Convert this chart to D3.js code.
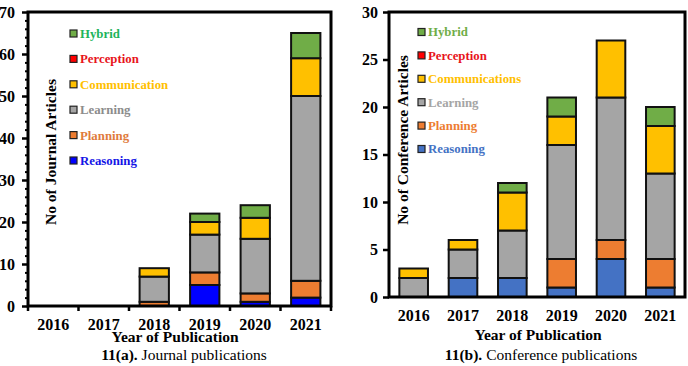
<!DOCTYPE html>
<html>
<head>
<meta charset="utf-8">
<script src="https://cdn.jsdelivr.net/npm/d3@7"></script>
<style>
  html, body { margin: 0; padding: 0; background: #fff; }
  svg text { font-family: "Liberation Serif", Tinos, "Times New Roman", Times, "Nimbus Roman", "DejaVu Serif", serif !important; }
</style>
</head>
<body>
<svg id="chart" width="688" height="366"></svg>
<script>
// ---------- DATA ----------
const years = ["2016", "2017", "2018", "2019", "2020", "2021"];
const seriesKeys = ["Reasoning", "Planning", "Learning", "Communication", "Perception", "Hybrid"];

// Journal publications (a)
const journalReasoning     = [0, 0, 0, 5, 1, 2];
const journalPlanning      = [0, 0, 1, 3, 2, 4];
const journalLearning      = [0, 0, 6, 9, 13, 44];
const journalCommunication = [0, 0, 2, 3, 5, 9];
const journalPerception    = [0, 0, 0, 0, 0, 0];
const journalHybrid        = [0, 0, 0, 2, 3, 6];

// Conference publications (b)
const confReasoning      = [0, 2, 2, 1, 4, 1];
const confPlanning       = [0, 0, 0, 3, 2, 3];
const confLearning       = [2, 3, 5, 12, 15, 9];
const confCommunications = [1, 1, 4, 3, 6, 5];
const confPerception     = [0, 0, 0, 0, 0, 0];
const confHybrid         = [0, 0, 1, 2, 0, 2];

const journalTicks = [0, 10, 20, 30, 40, 50, 60, 70];
const confTicks = [0, 5, 10, 15, 20, 25, 30];

const journalLegend = ["Hybrid", "Perception", "Communication", "Learning", "Planning", "Reasoning"];
const confLegend = ["Hybrid", "Perception", "Communications", "Learning", "Planning", "Reasoning"];

// ---------- STYLES ----------
const journalFill = { Reasoning: "#0000FF", Planning: "#ED7D31", Learning: "#A5A5A5", Communication: "#FFC000", Perception: "#FF0000", Hybrid: "#70AD47" };
const journalText = { Reasoning: "#1414E6", Planning: "#E07B3C", Learning: "#8C8C8C", Communication: "#FFC000", Perception: "#E8141B", Hybrid: "#1DB35A" };
const confFill = { Reasoning: "#4472C4", Planning: "#ED7D31", Learning: "#A5A5A5", Communication: "#FFC000", Perception: "#FF0000", Hybrid: "#70AD47" };
const confText = { Reasoning: "#4472C4", Planning: "#ED7D31", Learning: "#A5A5A5", Communication: "#FFC000", Perception: "#E8141B", Hybrid: "#70AD47" };

const SERIF = '"Liberation Serif", Tinos, "Times New Roman", Times, "Nimbus Roman", "DejaVu Serif", serif';

function buildRows(arrs) {
  return years.map((y, i) => {
    const r = { year: y };
    seriesKeys.forEach((k, j) => r[k] = arrs[j][i]);
    return r;
  });
}

const journalRows = buildRows([journalReasoning, journalPlanning, journalLearning, journalCommunication, journalPerception, journalHybrid]);
const confRows = buildRows([confReasoning, confPlanning, confLearning, confCommunications, confPerception, confHybrid]);

const svg = d3.select("#chart");

function drawChart(cfg) {
  const { left, right, top, bottom, ymax, ticks, minorStep, rows, fills, textCols,
          legendNames, legendX, legendY0, legendStep, yTitle, yTitleX, yTitleY,
          xTitleX, capX, capBold, capRest, boundaryTicks, labelPad } = cfg;

  const x = d3.scaleBand().domain(years).range([left, right]).paddingInner(0.42).paddingOuter(0.21);
  const xb = d3.scaleBand().domain(years).range([left, right]);
  const y = d3.scaleLinear().domain([0, ymax]).range([bottom, top]);

  const g = svg.append("g").attr("font-family", SERIF);

  // Stacked bars
  const stack = d3.stack().keys(seriesKeys)(rows);
  stack.forEach(layer => {
    g.append("g").selectAll("rect")
      .data(layer.filter(d => d[1] - d[0] > 0))
      .join("rect")
      .attr("x", d => x(d.data.year))
      .attr("width", x.bandwidth())
      .attr("y", d => y(d[1]))
      .attr("height", d => y(d[0]) - y(d[1]))
      .attr("fill", fills[layer.key])
      .attr("stroke", "#111")
      .attr("stroke-width", 2);
  });

  // Frame
  g.append("rect")
    .attr("x", left).attr("y", top)
    .attr("width", right - left).attr("height", bottom - top)
    .attr("fill", "none").attr("stroke", "#000").attr("stroke-width", 3);

  // Minor ticks
  if (minorStep) {
    const minor = d3.range(0, ymax + 0.001, minorStep).filter(v => !ticks.includes(v));
    g.append("g").attr("transform", `translate(${left},0)`)
      .call(d3.axisLeft(y).tickValues(minor).tickSize(3).tickFormat(""))
      .call(a => a.select(".domain").remove())
      .call(a => a.selectAll("line").attr("stroke", "#000").attr("stroke-width", 2));
  }

  // Y axis
  g.append("g").attr("transform", `translate(${left},0)`)
    .call(d3.axisLeft(y).tickValues(ticks).tickSize(6).tickPadding(labelPad))
    .call(a => a.attr("font-family", SERIF))
    .call(a => a.select(".domain").remove())
    .call(a => a.selectAll("line").attr("stroke", "#000").attr("stroke-width", 2.5))
    .call(a => a.selectAll("text").attr("font-weight", "bold")
      .attr("font-size", 16).attr("fill", "#000"));

  // X axis labels
  g.append("g").attr("transform", `translate(0,${bottom})`)
    .call(d3.axisBottom(x).tickSize(0).tickPadding(0))
    .call(a => a.attr("font-family", SERIF))
    .call(a => a.select(".domain").remove())
    .call(a => a.selectAll("text").attr("y", 24).attr("dy", 0)
      .attr("font-weight", "bold")
      .attr("font-size", 16).attr("fill", "#000"));

  // Boundary ticks on x axis
  if (boundaryTicks) {
    const bvals = years.map(d => xb(d)).concat([xb(years[years.length - 1]) + xb.bandwidth()]);
    g.append("g").selectAll("line").data(bvals).join("line")
      .attr("x1", d => d).attr("x2", d => d)
      .attr("y1", bottom).attr("y2", bottom + 5)
      .attr("stroke", "#000").attr("stroke-width", 2.5);
  }

  // Y title
  g.append("text")
    .attr("transform", `translate(${yTitleX},${yTitleY}) rotate(-90)`)
    .attr("text-anchor", "middle").attr("dy", "0.35em")
    .attr("font-weight", "bold").attr("font-size", 15.5)
    .text(yTitle);

  // X title
  g.append("text")
    .attr("x", xTitleX).attr("y", bottom + (cfg.xTitleOffset))
    .attr("text-anchor", "middle")
    .attr("font-weight", "bold").attr("font-size", 15.5)
    .text("Year of Publication");

  // Caption
  const cap = g.append("text")
    .attr("x", capX).attr("y", 360)
    .attr("text-anchor", "middle").attr("font-size", 15.5);
  cap.append("tspan").attr("font-weight", "bold").text(capBold);
  cap.append("tspan").text(capRest);

  // Legend
  const lg = g.append("g");
  legendNames.forEach((name, i) => {
    const key = name === "Communications" ? "Communication" : name;
    const cy = legendY0 + i * legendStep;
    lg.append("rect")
      .attr("x", legendX).attr("y", cy - 3.5).attr("width", 7).attr("height", 7)
      .attr("fill", fills[key]).attr("stroke", "#222").attr("stroke-width", 1.2);
    lg.append("text")
      .attr("x", legendX + 10).attr("y", cy).attr("dy", "0.35em")
      .attr("font-weight", "bold").attr("font-size", 12.8)
      .attr("fill", textCols[key])
      .text(name);
  });
}

drawChart({
  left: 28, right: 331, top: 12, bottom: 306, ymax: 70, ticks: journalTicks, minorStep: 2,
  rows: journalRows, fills: journalFill, textCols: journalText,
  legendNames: journalLegend, legendX: 70, legendY0: 33.5, legendStep: 25.4,
  yTitle: "No of Journal Articles", yTitleX: 51, yTitleY: 152,
  xTitleX: 175, xTitleOffset: 36, capX: 184, capBold: "11(a).", capRest: " Journal publications",
  boundaryTicks: true, labelPad: 7
});

drawChart({
  left: 389, right: 685, top: 12, bottom: 297, ymax: 30, ticks: confTicks, minorStep: 0,
  rows: confRows, fills: confFill, textCols: confText,
  legendNames: confLegend, legendX: 418, legendY0: 32, legendStep: 23.4,
  yTitle: "No of Conference Articles", yTitleX: 403, yTitleY: 140,
  xTitleX: 538, xTitleOffset: 43, capX: 541, capBold: "11(b).", capRest: " Conference publications",
  boundaryTicks: false, labelPad: 5
});
</script>
</body>
</html>
